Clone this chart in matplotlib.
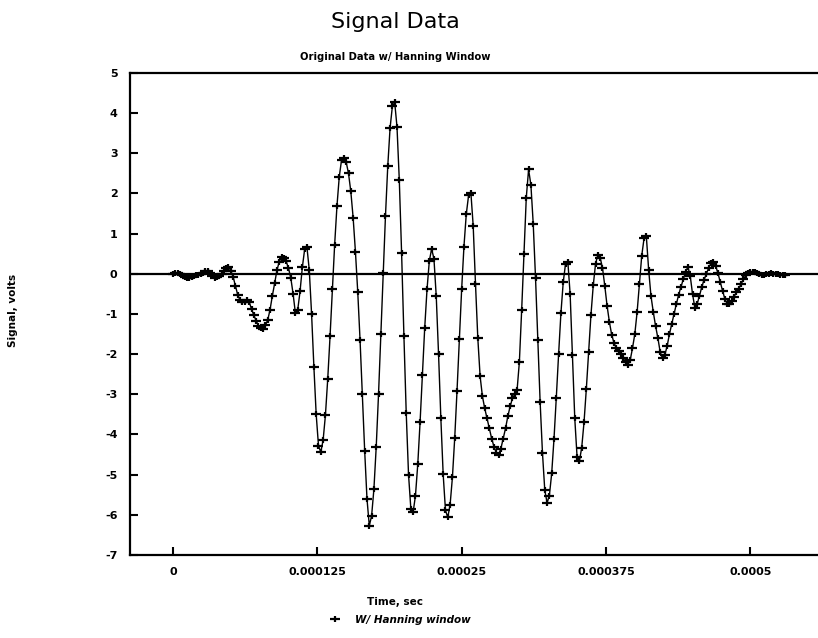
import numpy as np
import matplotlib
matplotlib.use("Agg")
import matplotlib.pyplot as plt
from matplotlib.path import Path
from matplotlib.lines import Line2D

plt.rcParams["axes.unicode_minus"] = False

# sample spacing (sec) and signal values, one every 2 us
dt = 2e-6
signal = [
    0.00, 0.01, 0.01, 0.00, -0.03, -0.07, -0.10, -0.10, -0.08, -0.06,
    -0.04, -0.02, 0.00, 0.03, 0.06, 0.07, 0.03, -0.05, -0.10, -0.08,
    -0.05, 0.00, 0.08, 0.15, 0.17, 0.08, -0.07, -0.30, -0.52, -0.65,
    -0.71, -0.70, -0.66, -0.70, -0.88, -1.03, -1.17, -1.29, -1.36, -1.37,
    -1.28, -1.15, -0.90, -0.55, -0.24, 0.09, 0.30, 0.41, 0.40, 0.31,
    0.14, -0.10, -0.50, -0.98, -0.90, -0.44, 0.16, 0.61, 0.66, 0.10,
    -0.99, -2.31, -3.50, -4.28, -4.44, -4.14, -3.52, -2.62, -1.56, -0.39,
    0.73, 1.69, 2.42, 2.84, 2.89, 2.78, 2.50, 2.05, 1.40, 0.55,
    -0.45, -1.65, -3.00, -4.40, -5.60, -6.27, -6.03, -5.36, -4.31, -3.00,
    -1.51, 0.01, 1.43, 2.68, 3.63, 4.17, 4.27, 3.66, 2.33, 0.51,
    -1.55, -3.47, -5.00, -5.85, -5.93, -5.52, -4.74, -3.69, -2.53, -1.35,
    -0.39, 0.32, 0.62, 0.38, -0.56, -2.00, -3.60, -4.99, -5.89, -6.06,
    -5.75, -5.07, -4.09, -2.91, -1.63, -0.39, 0.68, 1.48, 1.95, 2.02,
    1.20, -0.25, -1.60, -2.55, -3.05, -3.35, -3.60, -3.85, -4.10, -4.30,
    -4.45, -4.50, -4.35, -4.10, -3.85, -3.55, -3.30, -3.10, -3.00, -2.90,
    -2.20, -0.90, 0.50, 1.90, 2.60, 2.21, 1.25, -0.10, -1.65, -3.20,
    -4.45, -5.38, -5.70, -5.52, -4.97, -4.11, -3.08, -2.00, -0.98, -0.21,
    0.25, 0.30, -0.51, -2.02, -3.60, -4.56, -4.66, -4.33, -3.70, -2.87,
    -1.95, -1.03, -0.29, 0.25, 0.47, 0.40, 0.15, -0.30, -0.80, -1.20,
    -1.52, -1.72, -1.85, -1.93, -2.00, -2.10, -2.20, -2.26, -2.15, -1.85,
    -1.50, -0.95, -0.25, 0.45, 0.88, 0.93, 0.10, -0.55, -0.95, -1.30,
    -1.60, -1.95, -2.10, -2.02, -1.80, -1.50, -1.25, -1.00, -0.75, -0.52,
    -0.32, -0.14, 0.05, 0.17, -0.05, -0.50, -0.84, -0.75, -0.55, -0.33,
    -0.15, 0.00, 0.15, 0.26, 0.30, 0.20, 0.02, -0.20, -0.42, -0.62,
    -0.74, -0.76, -0.68, -0.57, -0.46, -0.37, -0.26, -0.14, -0.04, 0.02,
    0.04, 0.05, 0.04, 0.02, -0.01, -0.03, -0.03, -0.01, 0.00, 0.01,
    0.00, -0.01, -0.01, -0.02, -0.02, -0.02,
]
time = np.arange(len(signal)) * dt

xticks = [0, 0.000125, 0.00025, 0.000375, 0.0005]
xticklabels = ["0", "0.000125", "0.00025", "0.000375", "0.0005"]
yticks = list(range(-7, 6))

# plus marker, wider than tall like the plotter glyph
plus = Path([(-1, 0), (1, 0), (0, -0.6), (0, 0.6)],
            [Path.MOVETO, Path.LINETO, Path.MOVETO, Path.LINETO])

fig = plt.figure(figsize=(8.18, 6.38), dpi=100)
ax = fig.add_axes([0.1589, 0.1301, 0.85, 0.7555])

ax.plot(time, signal, color="black", linewidth=1.0, marker=plus,
        markersize=7, markeredgewidth=1.6, markeredgecolor="black")
ax.axhline(0, color="black", linewidth=1.6)

ax.set_xlim(-0.0000373, 0.000565)
ax.set_ylim(-7, 5)
ax.set_xticks(xticks)
ax.set_xticklabels(xticklabels)
ax.set_yticks(yticks)
ax.set_yticklabels([str(v) for v in yticks])
ax.tick_params(direction="in", length=6, width=1.5, pad=9)
for lab in ax.get_xticklabels() + ax.get_yticklabels():
    lab.set_fontsize(8)
    lab.set_fontweight("bold")

ax.spines["right"].set_visible(False)
for s in ["left", "bottom", "top"]:
    ax.spines[s].set_linewidth(1.6)

fig.text(395 / 818, 1 - 22 / 638, "Signal Data", ha="center", va="center",
         fontsize=16)
fig.text(395 / 818, 1 - 57 / 638, "Original Data w/ Hanning Window",
         ha="center", va="center", fontsize=7.2, fontweight="bold")
fig.text(395 / 818, 1 - 602 / 638, "Time, sec", ha="center", va="center",
         fontsize=7.5, fontweight="bold")
fig.text(13 / 818, 1 - 310 / 638, "Signal, volts", ha="center", va="center",
         rotation=90, fontsize=7.5, fontweight="bold")

handle = Line2D([], [], linestyle="none", marker=plus, markersize=7,
                markeredgewidth=1.6, color="black")
fig.legend([handle], ["W/ Hanning window"], loc="center",
           bbox_to_anchor=(399 / 818, 1 - 620 / 638), frameon=False,
           prop={"size": 7.5, "weight": "bold", "style": "italic"},
           handlelength=1.5, handletextpad=1.2)

fig.savefig("out.png", dpi=100)
